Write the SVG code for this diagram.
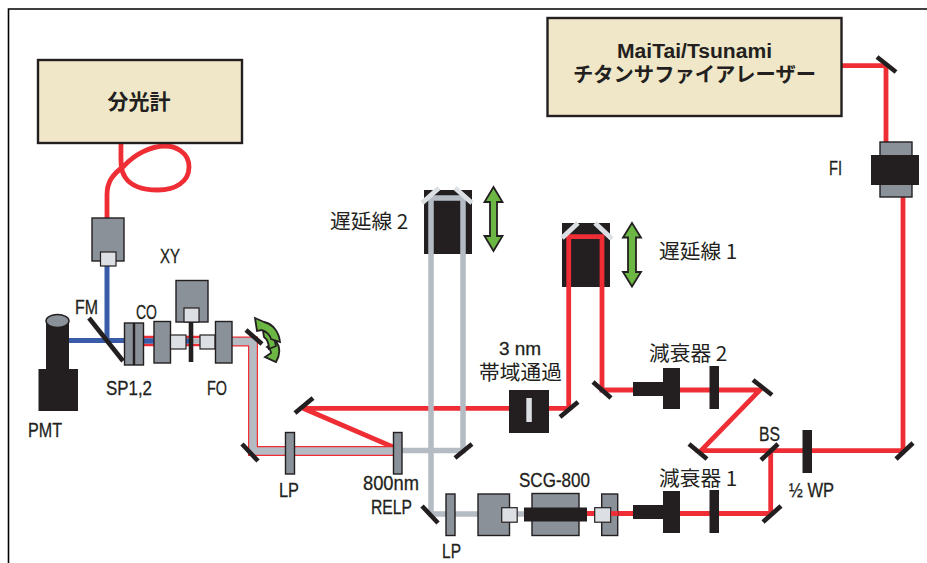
<svg xmlns="http://www.w3.org/2000/svg" width="927" height="563" viewBox="0 0 927 563">
<style>
.box{fill:#efe7c8;stroke:#231f20;stroke-width:2.4}
.g{fill:#8a9199;stroke:#231f20;stroke-width:1.4}
.w{fill:#dcdfe3;stroke:#231f20;stroke-width:1.2}
.k{fill:#231f20}
.m{stroke:#231f20;stroke-width:4.6;fill:none}
.mw{stroke:#dcdfe3;stroke-width:5;fill:none}
.r{stroke:#ee2e34;stroke-width:4.8;fill:none}
.b{stroke:#3a5ca8;stroke-width:5;fill:none}
.s{stroke:#b4bbc3;stroke-width:5.5;fill:none}
.ar{fill:#6cb644;stroke:#231f20;stroke-width:1.8}
text{fill:#231f20;font-family:"Liberation Sans","Noto Sans CJK JP",sans-serif;font-size:20px;stroke:#231f20;stroke-width:.3}
.j{font-family:"Noto Sans CJK JP","Liberation Sans",sans-serif;font-size:20.7px;stroke:none}
.jb{font-family:"Noto Sans CJK JP","Liberation Sans",sans-serif;font-weight:700;stroke:none}
</style>
<path d="M8.500 563V9H927" fill="none" stroke="#000" stroke-width="1.6"/>
<g id="connectors">
<path class="r" d="M121 144C121 160 120 170 125 177C132 188 145 190 158 190C175 190 189 182 189 167C189 152 175 146 165 146C150 146 134 155 124 166C112 175 107 182 107 195V218"/>
<path class="r" d="M842 65.700H886V142"/>
<path class="r" d="M903 197V450.700H701L760 390H602V236.700H568.700V408.300H303L393 447"/>
<path class="r" d="M770.700 450.700V513.500H587"/>
<path class="s" d="M402 450.500H463V198H431V514H524"/>
<path d="M232 341.500H253V451H393" fill="none" stroke="#ee2e34" stroke-width="10"/>
<path d="M232 341.500H253V451H393" fill="none" stroke="#b4bbc3" stroke-width="7.600"/>
<path class="b" d="M107 266V340.500M69 340.500H133"/>
<path d="M144 337H154M186 337H200M186 345H200M144 345H154" stroke="#ee2e34" stroke-width="2.600"/>
<path d="M144 341H154M186 341H191" stroke="#3a5ca8" stroke-width="5.400"/>
<path d="M191 341H200" stroke="#b4bbc3" stroke-width="5.400"/>
</g>
<g id="spectrometer"><rect class="box" x="38" y="60" width="204" height="83"/><text class="jb" x="139" y="109" text-anchor="middle" style="font-size:21px">分光計</text></g>
<g id="laser"><rect class="box" x="547.500" y="18" width="294" height="98"/><text x="617" y="58" textLength="155" lengthAdjust="spacingAndGlyphs" style="font-weight:700;stroke:none">MaiTai/Tsunami</text><text class="jb" x="694.500" y="82" text-anchor="middle" style="font-size:20.300px">チタンサファイアレーザー</text></g>
<g id="fiber-coupler"><rect class="g" x="92" y="218" width="32" height="43"/><rect class="w" x="100.500" y="252" width="15.500" height="14"/></g>
<g id="pmt"><path class="k" d="M46 321V369H38.500V411H78V369H69V321Z"/><ellipse cx="57.500" cy="321" rx="11.500" ry="6.500" fill="#8a9199" stroke="#231f20" stroke-width="1.400"/><text x="28" y="437" textLength="34" lengthAdjust="spacingAndGlyphs">PMT</text></g>
<g id="fm"><path class="m" d="M89 318L123 361"/><text x="75" y="314" textLength="23" lengthAdjust="spacingAndGlyphs">FM</text></g>
<g id="sp"><rect class="g" x="124.500" y="323" width="9" height="42"/><rect class="g" x="134.500" y="323" width="9" height="42"/><text x="106" y="395" textLength="46" lengthAdjust="spacingAndGlyphs">SP1,2</text></g>
<g id="co"><rect class="g" x="154" y="321.500" width="16.500" height="41.500"/><rect class="w" x="170.500" y="335" width="15.500" height="14"/><text x="136" y="319" textLength="21" lengthAdjust="spacingAndGlyphs">CO</text></g>
<g id="xy"><path class="m" d="M191 322V362"/><rect class="g" x="176" y="280.500" width="32" height="41.500"/><rect class="w" x="184" y="308" width="15" height="14"/><text x="160" y="263" textLength="20" lengthAdjust="spacingAndGlyphs">XY</text></g>
<g id="fo"><rect class="w" x="200" y="335" width="15" height="14"/><rect class="g" x="215.500" y="321.500" width="16.500" height="41.500"/><text x="207" y="395" textLength="20" lengthAdjust="spacingAndGlyphs">FO</text></g>
<g id="galvo"><path class="m" d="M246 330L262 344"/><path class="ar" d="M267 347L276 341C281 348 280 355 276 362L265 357L271 353C271 351 270 349 267 347Z"/><path class="ar" d="M263 331C270 332 275 338 276 346L269 349C269 344 268 340 264 337Z"/><path class="ar" d="M255 318L264 322C273 324 279 332 280 342L271 339C270 335 266 331 262 330L257 331Z"/></g>
<g id="mirror-a"><path class="m" d="M242 444L258 461"/></g>
<g id="lp1"><rect class="g" x="285.500" y="432.500" width="9" height="41.500"/><text x="279" y="497" textLength="20" lengthAdjust="spacingAndGlyphs">LP</text></g>
<g id="relp"><rect class="g" x="393.500" y="432.500" width="8.500" height="41.500"/><text x="363" y="490" textLength="56" lengthAdjust="spacingAndGlyphs">800nm</text><text x="371" y="514" textLength="41" lengthAdjust="spacingAndGlyphs">RELP</text></g>
<g id="mirror-b"><path class="m" d="M295 413L313 398"/></g>
<g id="mirror-c"><path class="m" d="M455 458L472 444"/></g>
<g id="mirror-d"><path class="m" d="M422 506L438 523"/></g>
<g id="delay2"><rect class="k" x="424" y="190" width="48" height="64"/><path class="s" d="M431 254V198H463V254"/><path class="mw" d="M422 203L439 188M455 188L472 203"/><path class="ar" d="M493.500 187L502.500 202H497V236H502.500L493.500 251L484.500 236H490V202H484.500Z"/><text class="j" x="330" y="229">遅延線 2</text></g>
<g id="delay1"><rect class="k" x="562" y="223" width="48" height="64"/><path class="r" d="M568.700 287V236.700H602V287"/><path class="mw" d="M562 238L578 223M595 223L612 239"/><path class="ar" d="M632 223L641 237.500H636V272H641L632 286.500L623 272H628V237.500H623Z"/><text class="j" x="659" y="259">遅延線 1</text></g>
<g id="bandpass"><rect class="k" x="509" y="390" width="40" height="43"/><rect x="526.300" y="398" width="5.500" height="24" fill="#dcdfe3"/><text x="520" y="355" text-anchor="middle" style="font-size:19px">3 nm</text><text class="j" x="520.500" y="380" text-anchor="middle">帯域通過</text></g>
<g id="mirror-e"><path class="m" d="M560 417L578 402"/></g>
<g id="mirror-f"><path class="m" d="M593 382L611 398"/></g>
<g id="att2"><path class="k" d="M633 382H663V368H680V409H663V396H633Z"/><rect class="k" x="709.500" y="366" width="9.500" height="43"/><text class="j" x="649" y="361">減衰器 2</text></g>
<g id="att1"><path class="k" d="M633 505H663V491H680V533H663V519H633Z"/><rect class="k" x="709.500" y="490" width="9.500" height="43"/><text class="j" x="659" y="486">減衰器 1</text></g>
<g id="mirror-g"><path class="m" d="M753 380L772 395"/></g>
<g id="mirror-h"><path class="m" d="M689 444L707 459"/></g>
<g id="bs"><path class="m" d="M761 460L778 444"/><text x="759" y="441" textLength="21" lengthAdjust="spacingAndGlyphs">BS</text></g>
<g id="mirror-i"><path class="m" d="M763 522L781 506"/></g>
<g id="wp"><rect class="k" x="802.500" y="430" width="9.500" height="43"/><text x="789" y="497" textLength="45" lengthAdjust="spacingAndGlyphs">½ WP</text></g>
<g id="mirror-j"><path class="m" d="M896 459L913 443"/></g>
<g id="mirror-k"><path class="m" d="M877 57L896 72"/></g>
<g id="fi"><rect class="g" x="880" y="142" width="32" height="55"/><rect class="k" x="871" y="155" width="48" height="30"/><text x="829" y="175" textLength="13" lengthAdjust="spacingAndGlyphs">FI</text></g>
<g id="lp2"><rect class="g" x="446" y="494" width="9" height="41.500"/><text x="442" y="558" textLength="19" lengthAdjust="spacingAndGlyphs">LP</text></g>
<g id="scg"><rect class="g" x="478" y="494" width="31.500" height="41.500"/><rect class="w" x="501.700" y="507.700" width="15.500" height="14.500"/><rect class="g" x="532" y="493.500" width="47" height="42"/><rect class="k" x="524" y="507.500" width="63" height="14"/><rect class="g" x="601.700" y="494" width="16" height="41.500"/><path class="r" d="M587 513.500H595"/><rect class="w" x="594.700" y="507.700" width="16" height="14.500"/><path class="r" d="M611 513.500H618"/><text x="519" y="487" textLength="71" lengthAdjust="spacingAndGlyphs">SCG-800</text></g>
</svg>
